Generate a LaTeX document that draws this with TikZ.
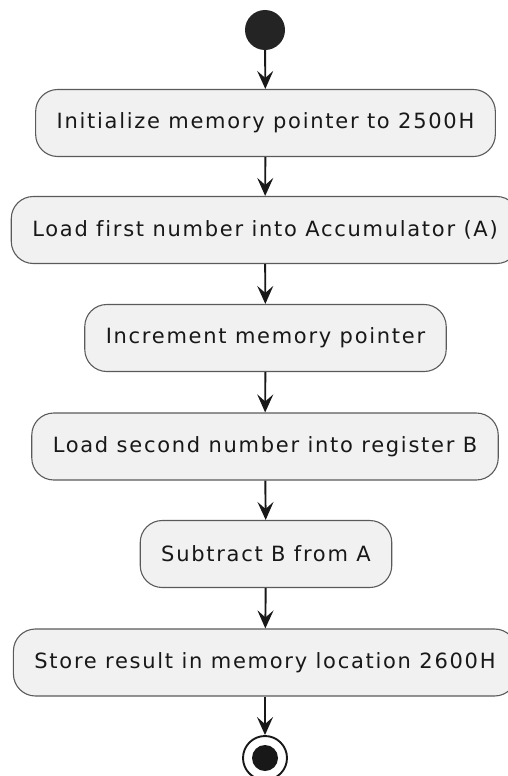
\documentclass[tikz,border=0pt]{standalone}
\usepackage{fontspec}
\setmainfont{DejaVu Sans}[LetterSpace=8.2, RawFeature=-liga]
\usetikzlibrary{arrows.meta}
\definecolor{actfill}{HTML}{F1F1F1}
\definecolor{actline}{HTML}{5A5A5A}
\definecolor{ink}{HTML}{181818}
\begin{document}
\begin{tikzpicture}[x=1pt,y=-1pt,
  action/.style={draw=actline, line width=1.1pt, fill=actfill, rounded corners=22pt,
    minimum height=67pt, inner xsep=21pt, font=\fontsize{21}{25}\selectfont, text=ink},
  flow/.style={draw=ink, line width=1.9pt,
    -{Stealth[length=18pt, width=16pt, inset=7pt]}}]
  \useasboundingbox (0,0) rectangle (508,776);
  % start and end markers
  \node (start) [circle, fill=ink!95, minimum size=40pt, inner sep=0pt] at (265,30) {};
  \node (stop) [circle, draw=ink, line width=1.9pt, fill=white, minimum size=44pt, inner sep=0pt] at (265,758) {};
  \fill[ink] (stop.center) circle (13pt);
  % actions
  \node (a1) [action] at (265.5,123) {Initialize memory pointer to 2500H};
  \node (a2) [action] at (265,230) {Load first number into Accumulator (A)};
  \node (a3) [action] at (265.5,338) {Increment memory pointer};
  \node (a4) [action] at (265,446.5) {Load second number into register B};
  \node (a5) [action] at (266,554) {Subtract B from A};
  \node (a6) [action] at (265,662.5) {Store result in memory location 2600H};
  % control flow
  \draw[flow] (start) -- (a1);
  \draw[flow] (a1) -- (a2);
  \draw[flow] (a2) -- (a3);
  \draw[flow] (a3) -- (a4);
  \draw[flow] (a4) -- (a5);
  \draw[flow] (a5) -- (a6);
  \draw[flow] (a6) -- (stop);
\end{tikzpicture}
\end{document}
